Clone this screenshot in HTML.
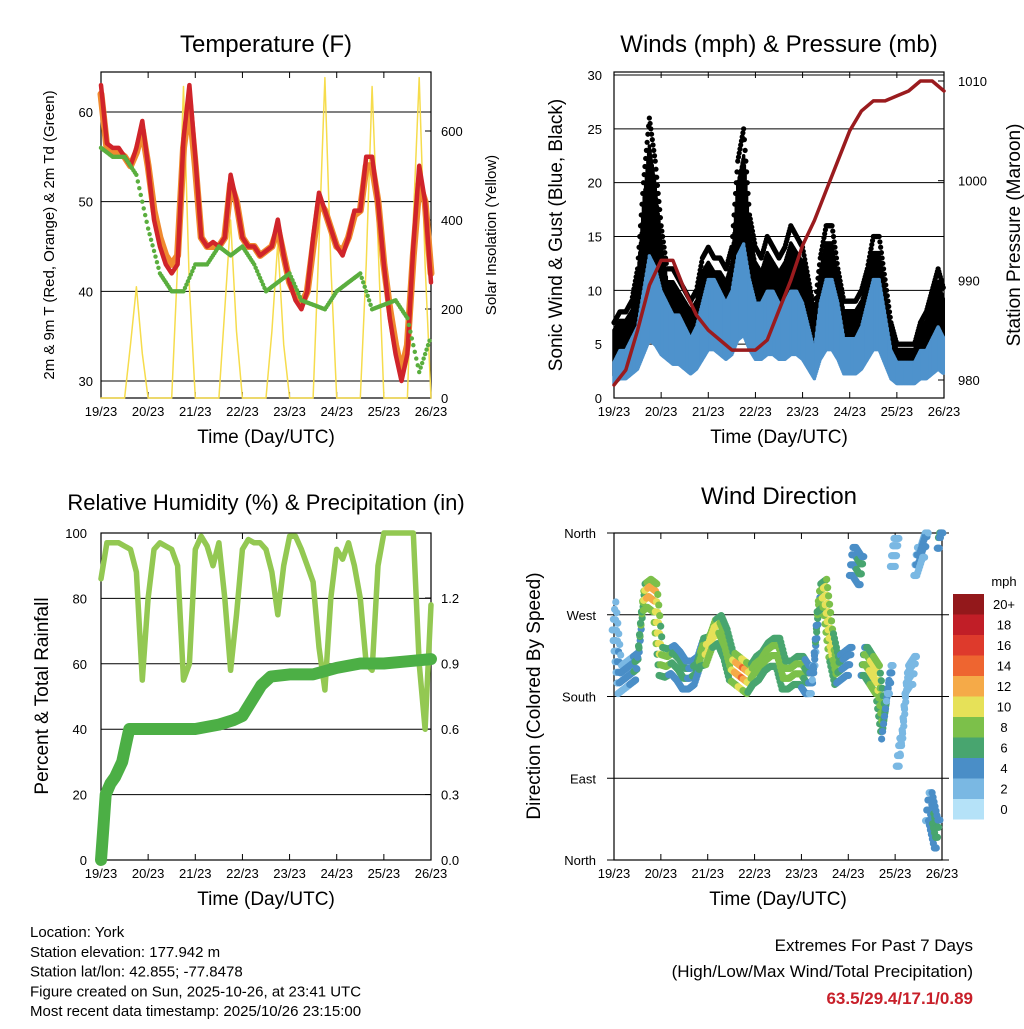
<!DOCTYPE html>
<html><head><meta charset="utf-8"><style>
body{margin:0;background:#fff}
svg text{font-family:"Liberation Sans",sans-serif;fill:#000}
</style></head><body>
<svg id="c" width="1024" height="1024" viewBox="0 0 1024 1024" xmlns="http://www.w3.org/2000/svg"></svg>
<script>
// ---------- DATA ----------
const dayTicks = ["19/23","20/23","21/23","22/23","23/23","24/23","25/23","26/23"];
const temp2m = [63,56.5,56,56,55,54,56,59,54,48,45,43,42,43,57,63,55,46,45,45.5,45,46,53,50,46,45,45,44,44.5,45,48,44,41,39,38,40,46,51,49,47,45,44,46,49,49,55,55,50,43,37,33,30,33,45,54,50,41];
const temp9m = [62,56,55.5,55.5,55,54,55.5,58,54,49,46,44,43,44,56,61,54,46,45,45,45,46,52,50,46,45,45,44,44.5,45,47,44,41,39.5,38.5,40,45,50,49,47,45,44.5,46,48.5,49,54,54,50,43,38,34,31,34,44,52,50,42];
const dewPt = [56,55,55,53,47,42,40,40,43,43,45,44,45,43,40,41,42,39,38.5,38,40,41,42,38,38.5,39,37,31,35];
const solar = [0,0,0,0,0,120,250,100, 0,0,0,0,0,300,700,250, 0,0,0,0,0,200,400,150, 0,0,0,0,0,150,350,120, 0,0,0,0,0,350,720,300, 0,0,0,0,0,300,700,350, 0,0,0,0,0,400,720,300, 0];
const tempTicks = [30,40,50,60];
const solarTicks = [0,200,400,600];
const windSpd = [3,4,4,5,6,9,12,11,9,8,7,7,6,5,6,8,10,10,9,8,9,12,13,10,8,8,9,9,8,8,9,9,8,6,4,8,10,10,8,5,5,5,6,8,10,10,7,4,3,3,3,3,4,4,5,6,5];
const windGust = [7,8,8,9,12,20,26,22,16,12,12,11,10,9,10,13,14,13,13,12,14,22,25,17,14,13,15,14,13,14,16,15,14,11,8,13,16,16,12,9,9,9,10,12,15,15,11,7,5,5,5,5,7,8,10,12,10];
const pressure = [979.5,981,985,989.5,992,992,989,986.5,985,984,983,983,983,984,987,990,993.5,996,999,1002,1005,1007,1008,1008,1008.5,1009,1010,1010,1009];
const windTicks = [0,5,10,15,20,25,30];
const presTicks = [980,990,1000,1010];
const rh = [86,97,97,97,96,95,88,55,80,95,97,96,95,90,55,60,95,99,96,90,97,80,58,75,95,98,97,97,95,88,75,90,99,99,95,90,85,65,52,80,95,92,97,90,80,60,58,90,100,100,100,100,100,100,60,40,78];
const precipDays = [0,0.05,0.1,0.2,0.3,0.45,0.55,0.6,1.0,2.0,2.5,2.8,3.0,3.2,3.4,3.6,4.0,4.5,5.0,5.5,6.0,6.5,7.0];
const precipIn = [0,0.15,0.3,0.35,0.38,0.45,0.55,0.6,0.6,0.6,0.62,0.64,0.66,0.73,0.8,0.84,0.85,0.85,0.88,0.9,0.9,0.91,0.92];
const rhTicks = [0,20,40,60,80,100];
const rainTicks = [0,0.3,0.6,0.9,1.2];
const windDir = [270,200,205,210,215,290,295,290,220,218,222,215,205,205,210,230,232,250,255,240,215,210,205,200,210,215,225,230,230,205,205,210,210,200,200,290,295,240,210,215,220,330,320,220,210,200,150,200,340,120,200,210,330,350,60,30,360];
const dirTicks = ["North","East","South","West","North"];
const speedBins = ["0","2","4","6","8","10","12","14","16","18","20+"];
const binColors = ["#b5e2f8","#7ab8e3","#4a8ec7","#48a56f","#7cc04a","#e6e158","#f5aa48","#ee6530","#de3a2c","#c11e27","#93181b"];

// ---------- HELPERS ----------
const svg = document.getElementById('c');
const NS = 'http://www.w3.org/2000/svg';
function el(tag, attrs, parent){const e=document.createElementNS(NS,tag);for(const k in attrs)e.setAttribute(k,attrs[k]);(parent||svg).appendChild(e);return e;}
function txt(x,y,s,size,anchor,extra){const t=el('text',Object.assign({x:x,y:y,'font-size':size,'text-anchor':anchor||'middle'},extra||{}));t.textContent=s;return t;}
function lin(d0,d1,r0,r1){return v=>r0+(v-d0)*(r1-r0)/(d1-d0);}
function poly(pts,stroke,w,name){const p=el('polyline',{points:pts.map(p=>p[0].toFixed(1)+','+p[1].toFixed(1)).join(' '),fill:'none',stroke:stroke,'stroke-width':w,'stroke-linejoin':'round','stroke-linecap':'round'});


return p;}

function frame(x0,y0,x1,y1,name){
  const g=el('rect',{x:x0,y:y0,width:x1-x0,height:y1-y0,fill:'none',stroke:'#000','stroke-width':1.2});
  
  
  const xs=lin(0,7,x0,x1);
  dayTicks.forEach((d,i)=>{
    const x=xs(i);
    el('line',{x1:x,y1:y1,x2:x,y2:y1-6,stroke:'#000'});
    el('line',{x1:x,y1:y0,x2:x,y2:y0+6,stroke:'#000'});
    const t=txt(x,y1+18,d,13);
    
    
  });
  const xl=txt((x0+x1)/2,y1+45,'Time (Day/UTC)',19);
  
  
  return xs;
}
function grid(x0,x1,y,ext){el('line',{x1:x0-(ext||0),y1:y,x2:x1+(ext||0),y2:y,stroke:'#000','stroke-width':1});}

// ---------- PANEL 1 ----------
(function(){
  const x0=101,y0=72,x1=431,y1=398;
  const ys=lin(30,60,381,112), ss=lin(0,600,398,131);
  const xs=frame(x0,y0,x1,y1,'temperature-plot-frame');
  tempTicks.forEach(v=>{grid(x0,x1,ys(v));const t=txt(x0-8,ys(v)+5,v,13,'end');});
  solarTicks.forEach(v=>{el('line',{x1:x1,y1:ss(v),x2:x1-6,y2:ss(v),stroke:'#000'});const t=txt(x1+10,ss(v)+5,v,13,'start');});
  poly(solar.map((v,i)=>[xs(i/8),ss(v)]),'#f6dc4c',1.5,'solar-insolation-line');
  poly(temp9m.map((v,i)=>[xs(i/8),ys(v)]),'#f08a2e',7,'temp-9m-line');
  poly(temp2m.map((v,i)=>[xs(i/8),ys(v)]),'#d0242a',4.5,'temp-2m-line');
  dewPt.forEach((v,i)=>{if(i<dewPt.length-1){for(let k=0;k<8;k++){const f=k/8;const c=el('circle',{cx:xs((i+f)/4),cy:ys(v+(dewPt[i+1]-v)*f),r:2.2,fill:'#5aae3e'});}}});
  const t=txt(266,52,'Temperature (F)',24);
  const a=txt(0,0,'2m & 9m T (Red, Orange) & 2m Td (Green)',15,'middle',{transform:'translate(54,235) rotate(-90)'});
  const b=txt(0,0,'Solar Insolation (Yellow)',15,'middle',{transform:'translate(496,235) rotate(-90)'});
})();

// ---------- PANEL 2 ----------
(function(){
  const x0=614,y0=72,x1=944,y1=398;
  const ys=lin(0,30,398,75), ps=lin(980,1010,380,81);
  const xs=frame(x0,y0,x1,y1,'winds-plot-frame');
  windTicks.forEach(v=>{grid(x0,x1,ys(v));const t=txt(x0-12,ys(v)+5,v,13,'end');});
  presTicks.forEach(v=>{el('line',{x1:x1,y1:ps(v),x2:x1-6,y2:ps(v),stroke:'#000'});const t=txt(x1+14,ps(v)+5,v,13,'start');});
  const N=8;
  windGust.forEach((v,i)=>{if(i<windGust.length-1){for(let k=0;k<N;k++){const f=k/N;const t=(i+f)/8;
    const g=v+(windGust[i+1]-v)*f, s=windSpd[i]+(windSpd[i+1]-windSpd[i])*f;
    const b=el('line',{x1:xs(t),x2:xs(t),y1:ys(s*0.7),y2:ys(g*0.9),stroke:'#000','stroke-width':3.5,'stroke-linecap':'round'});
    
    const c=el('circle',{cx:xs(t),cy:ys(g),r:2.6,fill:'#000'});}}});
  windSpd.forEach((v,i)=>{if(i<windSpd.length-1){for(let k=0;k<N;k++){const f=k/N;const t=(i+f)/8;
    const s=v+(windSpd[i+1]-v)*f;
    const b=el('line',{x1:xs(t),x2:xs(t),y1:ys(Math.max(0.5,s*0.45)),y2:ys(s*1.1),stroke:'#4e92cc','stroke-width':3.5,'stroke-linecap':'round'});
    }}});
  poly(pressure.map((v,i)=>[xs(i/4),ps(v)]),'#9a1b1e',3.5,'pressure-line');
  const t=txt(779,52,'Winds (mph) & Pressure (mb)',24);
  const a=txt(0,0,'Sonic Wind & Gust (Blue, Black)',19,'middle',{transform:'translate(562,235) rotate(-90)'});
  const b=txt(0,0,'Station Pressure (Maroon)',19,'middle',{transform:'translate(1020,235) rotate(-90)'});
})();

// ---------- PANEL 3 ----------
(function(){
  const x0=101,y0=533,x1=431,y1=860;
  const ys=lin(0,100,860,533), rs=lin(0,1.2,860,598);
  const xs=frame(x0,y0,x1,y1,'humidity-plot-frame');
  rhTicks.forEach(v=>{grid(x0,x1,ys(v));const t=txt(x0-14,ys(v)+5,v,13,'end');});
  rainTicks.forEach(v=>{el('line',{x1:x1,y1:rs(v),x2:x1-6,y2:rs(v),stroke:'#000'});const t=txt(x1+10,rs(v)+5,v.toFixed(1),13,'start');});
  poly(rh.map((v,i)=>[xs(i/8),ys(v)]),'#93c852',5.5,'rh-line');
  poly(precipIn.map((v,i)=>[xs(precipDays[i]),rs(v)]),'#4caf45',12,'precip-line');
  const t=txt(266,510,'Relative Humidity (%) & Precipitation (in)',22);
  const a=txt(0,0,'Percent & Total Rainfall',19,'middle',{transform:'translate(48,696) rotate(-90)'});
})();

// ---------- PANEL 4 ----------
(function(){
  const x0=614,y0=533,x1=942,y1=860;
  const ds=lin(0,360,860,533);
  const xs=frame(x0,y0,x1,y1,'direction-plot-frame');
  dirTicks.forEach((d,i)=>{const y=ds(i*90);grid(x0,x1,y,7);const t=txt(x0-18,y+5,d,13,'end');});
  function colorFor(s){let b=Math.floor(s/2);if(b>10)b=10;if(b<0)b=0;return binColors[b];}
  const spread=[-14,-5,5,14];
  windDir.forEach((v,i)=>{if(i<windDir.length-1){const n=windDir[i+1];const jump=Math.abs(n-v)>90;for(let k=0;k<6;k++){const f=k/6;const d=jump?(k<3?v:n):v+(n-v)*f;const s=windSpd[i]+(windSpd[i+1]-windSpd[i])*f;
    spread.forEach((o,j)=>{const dd=Math.min(360,Math.max(0,d+o*(j%2?1:1.2)));
    const c=el('circle',{cx:xs((i+f)/8)+(j-1.5)*1.2,cy:ds(dd),r:3.6,fill:colorFor(s*(j===0||j===3?0.8:1.1))});
    
    });}}});
  const cbTop=594,cbH=20.5;
  speedBins.slice().reverse().forEach((lab,i)=>{const col=binColors[10-i];const r=el('rect',{x:953,y:cbTop+i*cbH,width:31,height:cbH,fill:col});
    
    
    const t=txt(1004,cbTop+i*cbH+15,lab,13);});
  const m=txt(1004,586,'mph',13);
  const t=txt(779,504,'Wind Direction',24);
  const a=txt(0,0,'Direction (Colored By Speed)',19,'middle',{transform:'translate(540,696) rotate(-90)'});
})();

// ---------- Footer ----------
["Location: York","Station elevation: 177.942 m","Station lat/lon: 42.855; -77.8478","Figure created on Sun, 2025-10-26, at 23:41 UTC","Most recent data timestamp: 2025/10/26 23:15:00"].forEach((s,i)=>{const t=txt(30,937+i*19.8,s,15,'start');});
{const t=txt(973,951,'Extremes For Past 7 Days',17,'end');}
{const t=txt(973,977,'(High/Low/Max Wind/Total Precipitation)',17,'end');}
{const t=txt(973,1004,'63.5/29.4/17.1/0.89',17,'end',{'font-weight':'bold',fill:'#c8202a',style:'fill:#c8202a'});}
</script>
</body></html>
